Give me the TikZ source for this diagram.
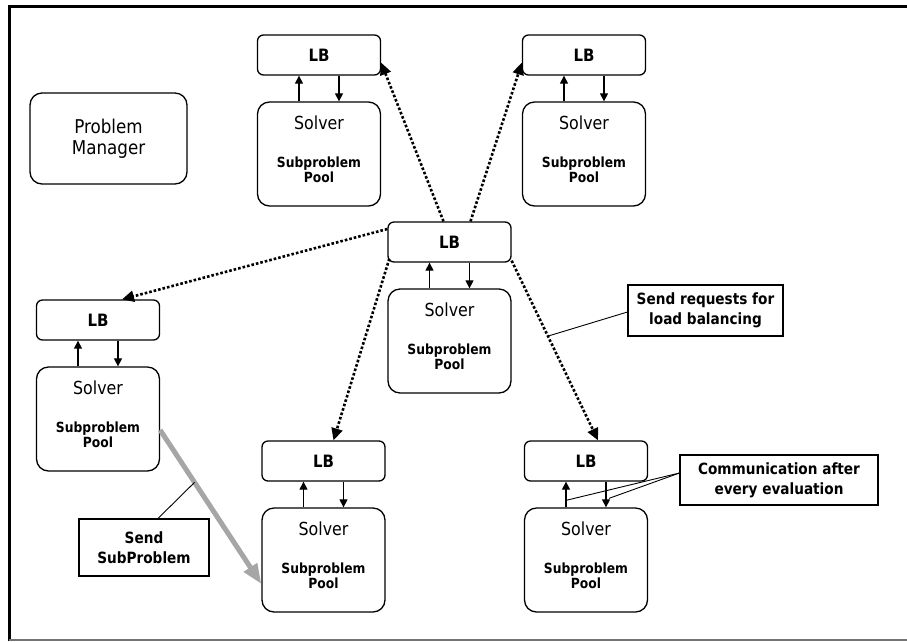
\documentclass[tikz,border=0pt]{standalone}
\usepackage{fontspec}
\setmainfont{DejaVu Sans}[FakeStretch=0.88]
\usetikzlibrary{arrows.meta,calc}
\begin{document}
\begin{tikzpicture}[x=1pt,y=-1pt,
  box/.style={draw,line width=1.3pt,rectangle},
  lbbox/.style={box,rounded corners=6pt,minimum width=123pt,minimum height=40pt,
    font=\fontsize{17}{19}\selectfont\bfseries},
  solverbox/.style={box,rounded corners=12pt,minimum width=123pt,minimum height=104pt},
  solvertxt/.style={font=\fontsize{18}{20}\selectfont},
  pooltxt/.style={font=\fontsize{14}{15}\selectfont\bfseries,align=center},
  note/.style={box,line width=1.1pt,font=\fontsize{15.5}{20}\selectfont\bfseries,align=center},
  link/.style={-{Triangle[length=8pt,width=8pt]},line width=1.2pt},
  lbarrow/.style={-{Triangle[length=12pt,width=11pt]},line width=2.6pt,dash pattern=on 2.6pt off 2pt},
  transfer/.style={-{Triangle[length=20pt,width=15pt]},line width=5pt,color=black!35},
  leader/.style={line width=0.9pt}]

\useasboundingbox (0,0) rectangle (907,641);

% frame
\draw[line width=3pt] (907,6) -- (9,6) -- (9,641);
\draw[line width=2pt,black!55] (9,639.5) -- (907,639.5);

% problem manager
\node[box,rounded corners=12pt,minimum width=157pt,minimum height=91pt,
  font=\fontsize{19}{21}\selectfont,align=center] (pm) at (108.5,138.5) {Problem\\Manager};

% load balancer / solver units
\foreach \n/\x/\y in {A/319/55,B/584/55,C/449.5/242,D/98/320,E/323.5/461,F/586/461}{
  \node[lbbox] (l\n) at (\x,\y) {LB};
  \node[solverbox] (s\n) at (\x,\y+99) {};
  \node[solvertxt] (t\n) at ([yshift=-21pt]s\n.north) {Solver};
  \node[pooltxt] (p\n) at ([yshift=-68pt]s\n.north) {Subproblem\\Pool};
  \draw[link] ([xshift=-20pt]s\n.north) -- ([xshift=-20pt]l\n.south);
  \draw[link] ([xshift=20pt]l\n.south) -- ([xshift=20pt]s\n.north);
}

% load balancing requests from the central unit
\draw[lbarrow] ([xshift=-6pt]lC.north) -- ([yshift=13pt]lA.south east);
\draw[lbarrow] ([xshift=21pt]lC.north) -- ([yshift=13pt]lB.south west);
\draw[lbarrow] ([yshift=13pt]lC.west) -- ([xshift=24pt]lD.north);
\draw[lbarrow] ([shift={(2pt,4pt)}]lC.south west) -- ([xshift=10pt]lE.north);
\draw[lbarrow] ([yshift=2pt]lC.south east) -- coordinate[pos=0.42] (req) ([xshift=12pt]lF.north);

% subproblem transfer
\draw[transfer] ([yshift=-11pt]sD.east) -- coordinate[pos=0.34] (sub) ([yshift=-24pt]sE.west);

% callouts
\node[note,minimum width=155pt,minimum height=51pt] (nreq) at (705.5,310.5) {Send requests for\\load balancing};
\draw[leader] ([yshift=-1.5pt]nreq.west) -- (req);

\node[note,minimum width=130pt,minimum height=57pt] (nsub) at (144,547.5) {Send\\SubProblem};
\draw[leader] ([xshift=14pt]nsub.north) -- (sub);

\node[note,minimum width=198pt,minimum height=50pt] (ncom) at (779,480) {Communication after\\every evaluation};
\draw[leader] ([yshift=7pt]ncom.west) -- ([shift={(-20pt,7pt)}]sF.north);
\draw[leader] ([yshift=7pt]ncom.west) -- ([shift={(23pt,9pt)}]sF.north);

\end{tikzpicture}
\end{document}
